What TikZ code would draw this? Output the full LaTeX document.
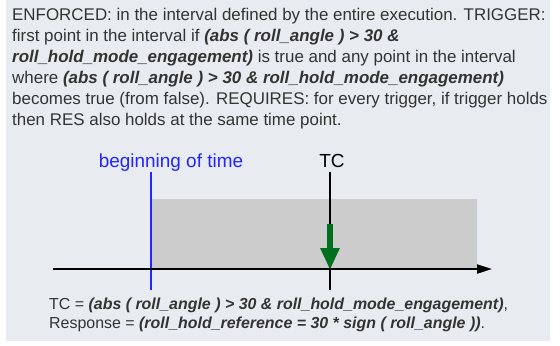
\documentclass[tikz,border=0pt]{standalone}
\usepackage{fontspec}
\setmainfont{Liberation Sans}
\usetikzlibrary{%
  arrows.meta,%
  positioning% wg. " of "
}
\definecolor{panelbg}{RGB}{232,236,240}
\definecolor{txtgray}{RGB}{51,51,51}
\definecolor{holdgray}{RGB}{204,204,204}
\definecolor{begblue}{RGB}{36,36,255}
\definecolor{resgreen}{RGB}{0,112,30}
\newcommand{\expr}[1]{\textbf{\textit{#1}}}

\begin{document}
\begin{tikzpicture}[
    x=1bp,y=-1bp,
    line join=round,
    desc/.style={inner sep=0pt,align=left,text=txtgray,
        font=\fontsize{17}{21}\selectfont},
    lbl/.style={inner sep=0pt,font=\fontsize{19}{22}\selectfont},
    timeline/.style={line width=2.5bp},
    axis/.style={line width=2bp,-{Triangle[length=15bp,width=9bp]}},
    response/.style={resgreen,line width=6bp,
        -{Triangle[length=22bp,width=18bp]},shorten >=-1bp}
  ]

    \useasboundingbox (0,0) rectangle (560,345);
    \fill[panelbg] (6,0) rectangle (550,341);

    % explanation
    \node[desc,anchor=north west] (spec) at (12,8.3)
      {ENFORCED: in the interval defined by the entire execution. TRIGGER:\\
       first point in the interval if \expr{(abs ( roll\_angle ) > 30 \&}\\
       \expr{roll\_hold\_mode\_engagement)} is true and any point in the interval\\
       where \expr{(abs ( roll\_angle ) > 30 \& roll\_hold\_mode\_engagement)}\\
       becomes true (from false). REQUIRES: for every trigger, if trigger holds\\
       then RES also holds at the same time point.};

    % time points
    \coordinate (axL)  at (53,269);
    \coordinate (axR)  at (492,269);
    \coordinate (begT) at (151,172);
    \coordinate (begB) at (151,290);
    \coordinate (tcT)  at (330,172);
    \coordinate (tcB)  at (330,290);
    \coordinate (resT) at (330,224);
    \coordinate (resB) at (330,269);
    \coordinate (holdR) at (477,199);

    \fill[holdgray] (begT |- holdR) rectangle (holdR |- axL);

    \draw[timeline,begblue] (begT) -- (begB);
    \draw[timeline] (tcT) -- (tcB);
    \draw[axis] (axL) -- (axR);
    \draw[response] (resT) -- (resB);

    \node[lbl,begblue,anchor=base] (beglbl) at (171,167) {beginning of time};
    \node[lbl,anchor=base] (tclbl) at (332,167) {TC};

    \node[desc,anchor=north west,font=\fontsize{16}{19}\selectfont]
      (tcdef) at (49,298)
      {TC = \expr{(abs ( roll\_angle ) > 30 \& roll\_hold\_mode\_engagement)},\\
       Response = \expr{(roll\_hold\_reference = 30 * sign ( roll\_angle ))}.};
\end{tikzpicture}
\end{document}
